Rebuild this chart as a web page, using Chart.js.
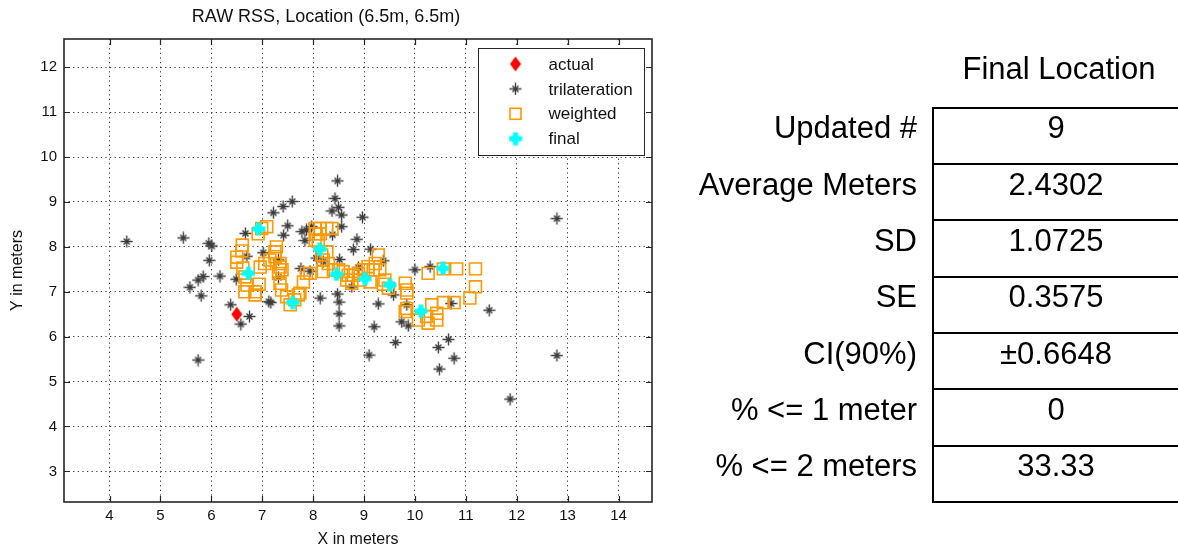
<!DOCTYPE html>
<html>
<head>
<meta charset="utf-8">
<script src="https://cdn.jsdelivr.net/npm/chart.js@4.4.1/dist/chart.umd.min.js"></script>
<style>
  html, body { margin: 0; padding: 0; background: #fff; }
  #wrap { position: relative; width: 1178px; height: 548px; overflow: hidden; }
  #chart { position: absolute; left: 0; top: 0; }
  .txt { position: absolute; font-family: 'Liberation Sans', Arial, sans-serif; font-size: 31px; color: #000; white-space: nowrap; line-height: 36px; height: 36px; }
  .hline { position: absolute; left: 932px; width: 246px; height: 2px; background: #000; }
  .vline { position: absolute; left: 932px; width: 2px; background: #000; }
</style>
</head>
<body>
<div id="wrap">
  <canvas id="chart" width="1178" height="548"></canvas>
  <div id="table"></div>
</div>
<script>
// --- data (metres) ---
const actualPts = [[6.5, 6.5]];

const trilatPts = [
  [4.34, 8.12], [5.45, 8.20], [5.95, 8.08], [6.01, 8.02], [5.96, 7.70], [5.84, 7.34],
  [6.17, 7.35], [6.67, 8.30], [7.22, 8.76], [7.41, 8.90], [7.59, 9.01], [7.50, 8.47],
  [7.42, 8.26], [7.78, 8.34], [7.87, 8.38], [7.84, 8.14], [7.97, 8.45], [8.48, 9.47],
  [8.43, 9.08], [8.50, 8.88], [8.37, 8.80], [8.56, 8.71], [8.56, 8.45], [8.86, 8.17],
  [8.79, 7.94], [8.52, 7.72], [7.76, 7.52], [7.32, 7.71], [6.70, 7.79], [7.32, 7.32],
  [5.74, 7.26], [5.58, 7.10], [5.80, 6.91], [6.49, 7.28], [7.02, 7.87], [7.94, 7.46],
  [7.13, 6.78], [7.17, 6.76], [6.38, 6.71], [6.75, 6.45], [6.58, 6.28], [8.14, 6.86],
  [8.07, 7.75], [8.20, 7.67], [8.97, 8.66], [8.38, 8.27], [9.13, 7.95], [8.89, 7.54],
  [9.38, 7.69], [10.00, 7.49], [8.76, 7.11], [9.58, 6.93], [8.48, 6.95], [8.51, 6.77],
  [8.51, 6.51], [8.51, 6.24], [9.28, 6.73], [10.30, 7.56], [9.20, 6.22], [9.10, 5.59],
  [9.62, 5.87], [9.74, 6.33], [9.87, 6.24], [9.84, 6.71], [10.71, 6.74], [11.46, 6.59],
  [10.66, 5.94], [10.46, 5.76], [10.77, 5.52], [12.79, 8.63], [12.79, 5.58], [11.87, 4.61],
  [5.74, 5.48], [10.48, 5.28]
];

const weightedPts = [
  [6.99, 8.41], [7.09, 8.45], [6.92, 8.29],
  [6.61, 8.04], [6.60, 7.91], [6.50, 7.77], [6.50, 7.66], [6.62, 7.53], [6.66, 7.33],
  [6.70, 7.15], [6.66, 7.00], [6.86, 7.00], [6.86, 6.93], [6.94, 7.17],
  [7.28, 8.00], [7.25, 7.89], [7.25, 7.78], [7.35, 7.63], [7.05, 7.63], [6.96, 7.55],
  [7.15, 7.71], [7.35, 7.55], [7.32, 7.41], [7.39, 7.49], [7.35, 7.19], [7.38, 7.04],
  [7.48, 6.89], [7.64, 6.82], [7.55, 6.71], [7.71, 6.93], [7.81, 7.22], [7.74, 6.97],
  [7.94, 7.41], [7.87, 7.41],
  [8.04, 8.41], [8.14, 8.41], [8.27, 8.41], [8.37, 8.41], [8.06, 8.29], [8.14, 8.29],
  [8.04, 8.15], [8.10, 8.12],
  [8.17, 7.82], [8.20, 7.71], [8.30, 7.63], [8.20, 7.45], [8.27, 7.89],
  [8.40, 7.49], [8.50, 7.49], [8.59, 7.45], [8.69, 7.37], [8.79, 7.37], [8.89, 7.41],
  [8.66, 7.26], [8.76, 7.19], [8.92, 7.26], [8.99, 7.49], [9.08, 7.56], [9.22, 7.63],
  [9.28, 7.82], [9.18, 7.49], [9.31, 7.49], [9.12, 7.22],
  [9.41, 7.26], [9.38, 7.17], [9.48, 7.08], [9.81, 7.19], [9.84, 7.04], [9.84, 6.97],
  [9.84, 6.63], [9.81, 6.56],
  [10.43, 6.52], [10.23, 6.45], [10.07, 6.37], [10.26, 6.30], [10.43, 6.37], [10.33, 6.71],
  [10.56, 6.76], [10.77, 6.76], [11.08, 6.86], [11.19, 7.11],
  [10.26, 7.41], [10.56, 7.51], [10.82, 7.51], [11.19, 7.51]
];

const finalPts = [
  [6.93, 8.40], [6.73, 7.41], [7.60, 6.76], [8.13, 7.95], [8.46, 7.39],
  [9.02, 7.29], [9.51, 7.15], [10.12, 6.57], [10.55, 7.52]
];

const seriesNames = ['actual', 'trilateration', 'weighted', 'final'];

const statLabels = ['Updated #', 'Average Meters', 'SD', 'SE', 'CI(90%)', '% <= 1 meter', '% <= 2 meters'];
const statValues = ['9', '2.4302', '1.0725', '0.3575', '\u00b10.6648', '0', '33.33'];

// --- markers ---
const MFONT = "'Liberation Sans', Arial, sans-serif";

function makeCanvas(w, h, draw) {
  const c = document.createElement('canvas');
  c.width = w; c.height = h;
  draw(c.getContext('2d'), w, h);
  return c;
}

const diamondMarker = makeCanvas(12, 16, (g, w, h) => {
  g.fillStyle = '#ff0000';
  g.beginPath();
  g.moveTo(w / 2, 0.5); g.lineTo(w - 0.5, h / 2); g.lineTo(w / 2, h - 0.5); g.lineTo(0.5, h / 2);
  g.closePath(); g.fill();
});

const asteriskMarker = makeCanvas(13, 13, (g, w, h) => {
  const c = w / 2;
  g.strokeStyle = '#3c3c3c';
  g.lineWidth = 1.4;
  g.beginPath();
  g.moveTo(c, 0.5); g.lineTo(c, h - 0.5);
  g.moveTo(0.5, c); g.lineTo(w - 0.5, c);
  g.moveTo(c - 3, c - 3); g.lineTo(c + 3, c + 3);
  g.moveTo(c + 3, c - 3); g.lineTo(c - 3, c + 3);
  g.stroke();
  g.fillStyle = '#3c3c3c';
  g.beginPath(); g.arc(c, c, 1.8, 0, Math.PI * 2); g.fill();
});

const finalMarker = makeCanvas(14, 14, (g, w, h) => {
  const c = w / 2;
  g.fillStyle = '#00ffff';
  g.fillRect(c - 2.5, 0.5, 5, h - 1);
  g.fillRect(0.5, c - 2.5, w - 1, 5);
  g.beginPath(); g.arc(c, c, 4.2, 0, Math.PI * 2); g.fill();
});

const toXY = pts => pts.map(p => ({ x: p[0], y: p[1] }));

// --- frame, inward ticks and legend (MATLAB style) ---
const TICK = 6;
const matlabFrame = {
  id: 'matlabFrame',
  afterDatasetsDraw(chart) {
    const { ctx, chartArea: a, scales: { x, y } } = chart;
    ctx.save();
    ctx.strokeStyle = '#262626';
    ctx.lineWidth = 1.2;
    ctx.beginPath();
    x.ticks.forEach(t => {
      const px = Math.round(x.getPixelForValue(t.value)) + 0.5;
      ctx.moveTo(px, a.bottom); ctx.lineTo(px, a.bottom - TICK);
      ctx.moveTo(px, a.top); ctx.lineTo(px, a.top + TICK);
    });
    y.ticks.forEach(t => {
      const py = Math.round(y.getPixelForValue(t.value)) + 0.5;
      ctx.moveTo(a.left, py); ctx.lineTo(a.left + TICK, py);
      ctx.moveTo(a.right, py); ctx.lineTo(a.right - TICK, py);
    });
    ctx.stroke();
    ctx.lineWidth = 1.6;
    ctx.strokeRect(a.left, a.top, a.right - a.left, a.bottom - a.top);

    // legend box in the upper right corner
    const bw = 166, bh = 107;
    const bx = a.right - 8 - bw, by = a.top + 9;
    ctx.fillStyle = '#fff';
    ctx.fillRect(bx, by, bw, bh);
    ctx.lineWidth = 1;
    ctx.strokeStyle = '#262626';
    ctx.strokeRect(bx + 0.5, by + 0.5, bw, bh);
    const markers = [diamondMarker, asteriskMarker, null, finalMarker];
    ctx.font = '17px ' + MFONT;
    ctx.textBaseline = 'middle';
    ctx.textAlign = 'left';
    seriesNames.forEach((name, i) => {
      const cy = by + 16 + i * 24.9;
      const mx = bx + 37.5;
      const m = markers[i];
      if (m) {
        ctx.drawImage(m, mx - m.width / 2, cy - m.height / 2);
      } else {
        ctx.strokeStyle = '#ff9900';
        ctx.lineWidth = 1.6;
        ctx.strokeRect(mx - 5.5, cy - 5.5, 11, 11);
      }
      ctx.fillStyle = '#111';
      ctx.fillText(name, bx + 70.5, cy + 1);
    });
    ctx.restore();
  }
};

const axisFont = { family: MFONT, size: 15 };

new Chart(document.getElementById('chart'), {
  type: 'scatter',
  data: {
    datasets: [
      { label: 'final', data: toXY(finalPts), pointStyle: finalMarker, pointRadius: 7 },
      { label: 'actual', data: toXY(actualPts), pointStyle: diamondMarker, pointRadius: 8 },
      { label: 'weighted', data: toXY(weightedPts), pointStyle: 'rect', pointRadius: 8.4,
        borderColor: '#ff9900', backgroundColor: 'rgba(0,0,0,0)', borderWidth: 1.6 },
      { label: 'trilateration', data: toXY(trilatPts), pointStyle: asteriskMarker, pointRadius: 6 }
    ]
  },
  options: {
    responsive: false,
    animation: false,
    layout: { padding: { left: 0, right: 526, top: 0, bottom: 0 } },
    plugins: {
      legend: { display: false },
      tooltip: { enabled: false },
      title: {
        display: true,
        text: 'RAW RSS, Location (6.5m, 6.5m)',
        color: '#111',
        font: { family: MFONT, size: 18, weight: 'normal', lineHeight: 1.2 },
        padding: { top: 6.2, bottom: 11.2 }
      }
    },
    scales: {
      x: {
        type: 'linear',
        min: 3.106, max: 14.658,
        afterFit: s => { s.height = 46; },
        ticks: { stepSize: 1, includeBounds: false, color: '#111', font: axisFont, padding: 5, maxRotation: 0 },
        grid: { color: '#333', lineWidth: 1, drawTicks: false },
        border: { display: false, dash: [1.2, 3.4] },
        title: { display: true, text: 'X in meters', color: '#111', font: { family: MFONT, size: 16, lineHeight: 1 }, padding: { top: 0, bottom: 0 } }
      },
      y: {
        type: 'linear',
        min: 2.318, max: 12.63,
        afterFit: s => { s.width = 64; },
        ticks: { stepSize: 1, includeBounds: false, color: '#111', font: axisFont, padding: 7 },
        grid: { color: '#333', lineWidth: 1, drawTicks: false },
        border: { display: false, dash: [1.2, 3.4] },
        title: { display: true, text: 'Y in meters', color: '#111', font: { family: MFONT, size: 16, lineHeight: 1 }, padding: { top: 10, bottom: 0 } }
      }
    }
  },
  plugins: [matlabFrame]
});

// --- statistics table on the right ---
const table = document.getElementById('table');
const rowTop = 107.7, rowH = 56.33;
function addDiv(cls, style, text) {
  const d = document.createElement('div');
  d.className = cls;
  Object.assign(d.style, style);
  if (text !== undefined) d.textContent = text;
  table.appendChild(d);
  return d;
}
addDiv('txt', { left: '940px', width: '238px', top: (68.5 - 18) + 'px', textAlign: 'center' }, 'Final Location');
addDiv('vline', { top: (rowTop - 1) + 'px', height: (rowH * statLabels.length + 2) + 'px' });
for (let i = 0; i <= statLabels.length; i++) {
  addDiv('hline', { top: (rowTop + i * rowH - 1) + 'px' });
}
statLabels.forEach((lab, i) => {
  const cy = rowTop + i * rowH + 20.6;
  addDiv('txt', { left: '600px', width: '317px', top: (cy - 18) + 'px', textAlign: 'right' }, lab);
  addDiv('txt', { left: '934px', width: '244px', top: (cy - 18) + 'px', textAlign: 'center' }, statValues[i]);
});
</script>
</body>
</html>
